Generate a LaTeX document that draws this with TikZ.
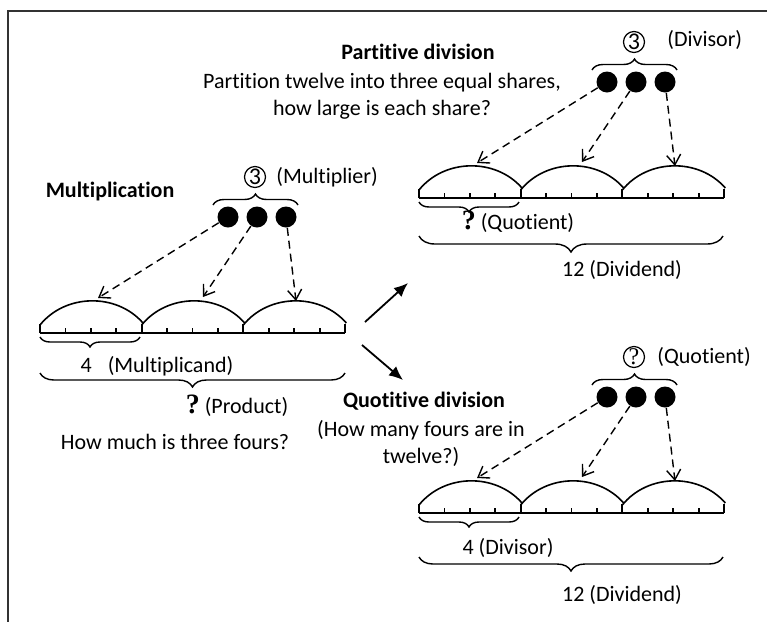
\documentclass[tikz,border=0pt]{standalone}
\usepackage{fontspec}
\setmainfont{Carlito}[RawFeature={-liga,-clig,-calt,-dlig}]
\newfontfamily\qfont{Liberation Serif}
\usetikzlibrary{arrows.meta,decorations.pathreplacing}

\newcommand\bigq{{\qfont\fontsize{14}{14}\selectfont\bfseries ?}}

\tikzset{
  every node/.style={font=\fontsize{11}{13.5}\selectfont,inner sep=1pt},
  heading/.style={font=\fontsize{11}{13.5}\selectfont\bfseries},
  dot/.style={circle,fill,inner sep=0pt,minimum size=10.5pt},
  tally/.style={circle,draw,line width=0.6pt,inner sep=0pt,minimum size=10.5pt,
    font=\fontsize{12}{12}\selectfont},
  share/.style={line width=0.7pt,dash pattern=on 4pt off 2.5pt,
    -{Straight Barb[length=5pt,width=7pt]}},
  bigarrow/.style={line width=0.9pt,-{Latex[length=7pt,width=6pt]}},
  brc/.style={decorate,decoration={brace,amplitude=#1},line width=0.7pt},
  pics/strip/.style={code={
    % number line, 3 groups of 4
    \draw[line width=1.3pt] (0,0) -- (305,0);
    \foreach \i in {0,...,12}{
      \pgfmathsetmacro\h{ifthenelse(mod(\i,4)==0,9,5)}
      \draw[line width=0.9pt] (\i*25.42,0) -- ++(0,-\h);
    }
    \foreach \i in {0,1,2}
      \draw[line width=0.8pt] (\i*101.67,-8) to[bend left=50] (\i*101.67+103,-10);
    % counters
    \node[dot] (-d1) at (188,-116) {};
    \node[dot] (-d2) at (217,-116) {};
    \node[dot] (-d3) at (246,-116) {};
    \draw[brc=5.5pt] (173,-128) -- (258,-128);
    \node[tally] (-n) at (215,-156) {#1};
    \coordinate (-t1) at (58,-35);
    \coordinate (-t2) at (163,-36);
    \coordinate (-t3) at (256,-32);
    \draw[share] (-d1) -- (-t1);
    \draw[share] (-d2) -- (-t2);
    \draw[share] (-d3) -- (-t3);
    \draw[brc=5pt] (100,4) -- (0,4);
  }}
}

\begin{document}
\begin{tikzpicture}[x=0.5pt,y=-0.5pt]
  \useasboundingbox (0,0) rectangle (767,622);
  \draw[line width=1pt,black!80] (8,622) -- (8,11) -- (767,11);

  % multiplication
  \pic (mult) at (40,333) {strip=3};
  \node[heading] (multtitle) at (110,192) {Multiplication};
  \node[anchor=west] (multrole) at (274,177) {(Multiplier)};
  \draw[brc=7pt] (345,373) -- (40,373);
  \node (multcand) at (157,366) {4\enspace\ (Multiplicand)};
  \node (product) at (237,406) {\bigq\ (Product)};
  \node (multq) at (175,442) {How much is three fours?};

  % the two ways back
  \coordinate (a0) at (365,322);
  \coordinate (a1) at (408,283);
  \coordinate (b0) at (362,345);
  \coordinate (b1) at (403,380);
  \draw[bigarrow] (a0) -- (a1);
  \draw[bigarrow] (b0) -- (b1);

  % partitive
  \pic (part) at (419,198) {strip=3};
  \node[heading] (parttitle) at (418,52) {Partitive division};
  \node[align=center] (partq) at (382,96)
    {Partition twelve into three equal shares,\\how large is each share?};
  \node[anchor=west] (partrole) at (665,40) {(Divisor)};
  \node (partquot) at (518,222) {\bigq\ (Quotient)};
  \draw[brc=8pt] (723,236) -- (419,236);
  \node (partdiv) at (622,270) {12 (Dividend)};

  % quotitive
  \pic (quot) at (419,513) {strip={\qfont ?}};
  \node[heading] (quottitle) at (424,401) {Quotitive division};
  \node[align=center] (quotq) at (421,443) {(How many fours are in\\twelve?)};
  \node[anchor=west] (quotrole) at (655,357) {(Quotient)};
  \node (quotdivisor) at (508,548) {4 (Divisor)};
  \draw[brc=7pt] (723,557) -- (419,557);
  \node (quotdiv) at (622,595) {12 (Dividend)};
\end{tikzpicture}
\end{document}
